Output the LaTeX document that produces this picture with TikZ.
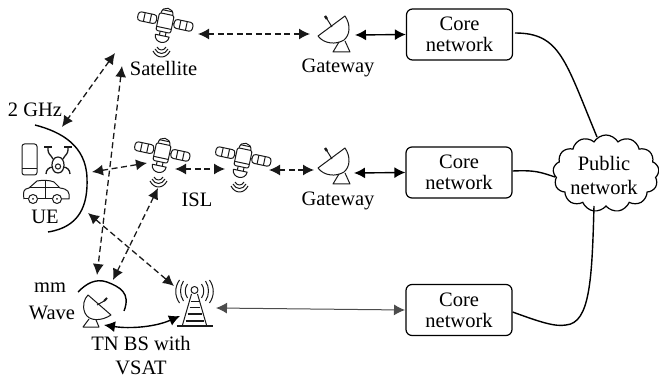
\documentclass[tikz,border=0pt]{standalone}
\usepackage{fontspec}
\setmainfont{Liberation Serif}
\usetikzlibrary{arrows.meta,shapes.symbols}
\tikzset{
  lbl/.style={inner sep=0pt,font=\fontsize{20.5}{22}\selectfont,text=black,align=center},
  corebox/.style={draw,rounded corners=6pt,line width=1.2pt,minimum width=106pt,minimum height=51pt,inner sep=0pt,font=\fontsize{20.5}{21}\selectfont,align=center,text=black},
  dbl/.style={{Latex[length=11pt,width=11pt]}-{Latex[length=11pt,width=11pt]}},
  dashlink/.style={dbl,line width=1.3pt,dash pattern=on 6pt off 3.5pt,black!90},
  solidlink/.style={dbl,line width=1.4pt},
  wire/.style={line width=1.4pt},
  icon/.style={line width=1pt,black!90,line join=round},
  satellite/.pic={
    \begin{scope}[rotate=-12,icon]
      \draw[rounded corners=2pt] (-7.5,-9) rectangle (7.5,9);
      \draw (-6,-9) .. controls (-6,-17) and (6,-17) .. (6,-9);
      \draw (-5,-12.5) -- (5,-12.5);
      \draw (-7.5,5) -- (7.5,5);
      \draw (-3,9) -- (-3,13) (3,9) -- (3,13);
      \draw (-7,13) -- (7,13) .. controls (7,22) and (-7,22) .. (-7,13) -- cycle;
      \draw[rounded corners=3pt] (-28,-6) rectangle (-9,3);
      \draw (-21.5,-6) -- (-21.5,3) (-15,-6) -- (-15,3);
      \draw (-9,-1) -- (-7.5,-1);
      \draw[rounded corners=3pt] (9,-6) rectangle (28,3);
      \draw (15,-6) -- (15,3) (21.5,-6) -- (21.5,3);
      \draw (7.5,-1) -- (9,-1);
    \end{scope}
    \begin{scope}[icon]
      \draw (-8,24) .. controls (-6,28) and (-1,28) .. (1,24);
      \draw (-10,26) .. controls (-7,32) and (0,32) .. (3,26);
      \draw (-12,28) .. controls (-8,36) and (1,36) .. (5,28);
    \end{scope}
  },
  gatewaydish/.pic={
    \begin{scope}[icon]
      \draw (-16,9) -- (11,-11) .. controls (17,-2) and (16,8) .. (10,13) .. controls (2,18) and (-10,17) .. (-16,9) -- cycle;
      \draw (-2,0) -- (-7,-8);
      \draw[line width=2.4pt] (-7,-8) -- (-9,-11);
      \draw (5,15) -- (-1,25) -- (16,25) -- (11,14);
    \end{scope}
  },
  mmdish/.pic={
    \begin{scope}[icon]
      \draw (-9,-15) -- (14,5) .. controls (5,11) and (-8,12) .. (-12,3) .. controls (-15,-4) and (-13,-11) .. (-9,-15) -- cycle;
      \draw (0,-5) -- (9,-10);
      \draw[line width=1.8pt] (7,-9) -- (10,-12);
      \draw (-8,9) -- (-14,17) -- (2,17) -- (-1,10);
    \end{scope}
  },
  tower/.pic={
    \begin{scope}[icon]
      \draw (0,0) circle[radius=3.5pt];
      \draw (-3,4) -- (-12,35) (3,4) -- (12,35);
      \draw[line width=1.6pt] (-18,36) -- (18,36);
      \draw (-4,12) -- (4,12) (-5,17) -- (5,17);
      \draw[line width=1.3pt] (-7,24) -- (7,24) (-9,31) -- (9,31);
      \foreach \s in {-1,1}{
        \draw[xscale=\s] (7,-6) .. controls (10,-2) and (10,4) .. (7,8);
        \draw[xscale=\s] (11,-9) .. controls (15,-3) and (15,5) .. (11,11);
        \draw[xscale=\s] (15,-10) .. controls (20,-3) and (20,6) .. (15,13);
      }
    \end{scope}
  }
}
\begin{document}
\begin{tikzpicture}[x=1pt,y=-1pt]
\useasboundingbox (0,0) rectangle (659,382);
% core boxes and cloud
\node[corebox] (core1) at (459.5,34.5) {Core\\network};
\node[corebox] (core2) at (459,172.5) {Core\\network};
\node[corebox] (core3) at (459,310) {Core\\network};
\node[cloud,draw,line width=1.2pt,cloud puffs=13,cloud puff arc=120,aspect=1.45,minimum width=106pt,minimum height=77pt,inner sep=0pt] (cloudnet) at (606,173.5) {};
\node[lbl] (pubtext) at (604,175.5) {Public\\[2.5pt]network};
% icons
\pic at (165,23) {satellite};
\pic at (162,153) {satellite};
\pic at (243,158) {satellite};
\pic at (334,27) {gatewaydish};
\pic at (334,159) {gatewaydish};
\pic at (97,310) {mmdish};
\pic at (194.5,290) {tower};
% labels
\node[lbl] (satlabel) at (163.5,68) {Satellite};
\node[lbl] (gwlabel1) at (338,68) {Gateway};
\node[lbl] (gwlabel2) at (338,201) {Gateway};
\node[lbl] (ghz) at (35,110) {2 GHz};
\node[lbl] (isl) at (197,200) {ISL};
\node[lbl] (ue) at (45,217) {UE};
\node[lbl] (mm) at (50,288) {mm};
\node[lbl] (wave) at (52,313) {Wave};
\node[lbl] (tnbs) at (141,343) {TN BS with};
\node[lbl] (vsat) at (141,368) {VSAT};
% UE devices
\begin{scope}[icon]
  \draw[rounded corners=2.5pt] (22,144) rectangle (37,175);
  \draw (22,169) -- (37,169);
  \draw[line width=1.3pt] (48,147) -- (48,150) .. controls (48,154) and (51,155) .. (53,159);
  \draw[line width=1.3pt] (68,147) -- (68,150) .. controls (68,154) and (65,155) .. (63,159);
  \draw[line width=1.3pt] (44,147) -- (52,147) (64,147) -- (72,147);
  \draw[line width=1.2pt] (58,157) .. controls (66,157) and (66,173) .. (58,173) .. controls (50,173) and (50,157) .. (58,157) -- cycle;
  \draw (58,166.5) circle[radius=2.6pt];
  \draw[line width=1.3pt] (53,167) .. controls (49,167) and (46,170) .. (46,174);
  \draw[line width=1.3pt] (63,167) .. controls (67,167) and (70,170) .. (70,174);
  \draw (24,199) .. controls (23,192) and (23,189) .. (29,188) -- (37,181) .. controls (42,180) and (50,180) .. (54,182) -- (60,188) .. controls (68,189) and (70,192) .. (69,199) -- (62,199);
  \draw (52,199) -- (38,199) (28,199) -- (24,199);
  \draw (29,188) -- (60,188) (45,181) -- (45,199);
  \draw (33,199) circle[radius=4.5pt];
  \fill (33,199) circle[radius=1pt];
  \draw (57,199) circle[radius=4.5pt];
  \fill (57,199) circle[radius=1pt];
\end{scope}
% named coordinates
\coordinate (uearcA) at (35,125);
\coordinate (uearcB) at (48,232);
\coordinate (mmarcA) at (78,292);
\coordinate (mmarcB) at (124,311);
\coordinate (satA) at (198,34);
\coordinate (gwA) at (310,34);
\coordinate (gwAr) at (355,35);
\coordinate (coreAl) at (core1.west);
\coordinate (gwBr) at (354,173);
\coordinate (coreBl) at (core2.west);
\coordinate (twrR) at (216,308);
\coordinate (coreCl) at (405,310);
\coordinate (satTopL) at (115,53);
\coordinate (ueTop) at (62,127);
\coordinate (satTopB) at (122,66);
\coordinate (mmTopA) at (97,275);
\coordinate (ueR) at (92,172);
\coordinate (satBl) at (147,163);
\coordinate (satBr) at (175,169);
\coordinate (satCl) at (225,169);
\coordinate (satCr) at (269,170);
\coordinate (gwBl) at (314,170);
\coordinate (satBb) at (158,188);
\coordinate (mmTopB) at (113,280);
\coordinate (ueB) at (88,213);
\coordinate (twrTop) at (174,286);
\coordinate (dishR) at (104,325);
\coordinate (twrL) at (180,316);
% arcs
\draw[wire] (uearcA) .. controls (62,132) and (86,146) .. (87,178) .. controls (88,205) and (80,227) .. (uearcB);
\draw[wire] (mmarcA) .. controls (86,284) and (95,278) .. (107,282) .. controls (120,287) and (131,293) .. (mmarcB);
% connectors
\draw[dashlink] (satA) -- (gwA);
\draw[solidlink] (gwAr) -- (coreAl);
\draw[solidlink] (gwBr) -- (coreBl);
\draw[dbl,line width=1pt,black!70] (twrR) -- (coreCl);
\draw[dashlink] (satTopL) -- (ueTop);
\draw[dashlink] (satTopB) -- (mmTopA);
\draw[dashlink] (ueR) -- (satBl);
\draw[dashlink] (satBr) -- (satCl);
\draw[dashlink] (satCr) -- (gwBl);
\draw[dashlink] (satBb) -- (mmTopB);
\draw[dashlink] (ueB) -- (twrTop);
\draw[solidlink] (dishR) .. controls (130,329) and (155,327) .. (twrL);
% wires to cloud
\draw[wire] (515,33) .. controls (560,33) and (565,60) .. (597,137);
\draw[wire] (core2.east |- 0,171) .. controls (535,170) and (540,172) .. (555,177);
\draw[wire] (core3.east |- 0,312) .. controls (540,322) and (555,327) .. (566,325) .. controls (590,323) and (592,280) .. (594,206);
\end{tikzpicture}
\end{document}
